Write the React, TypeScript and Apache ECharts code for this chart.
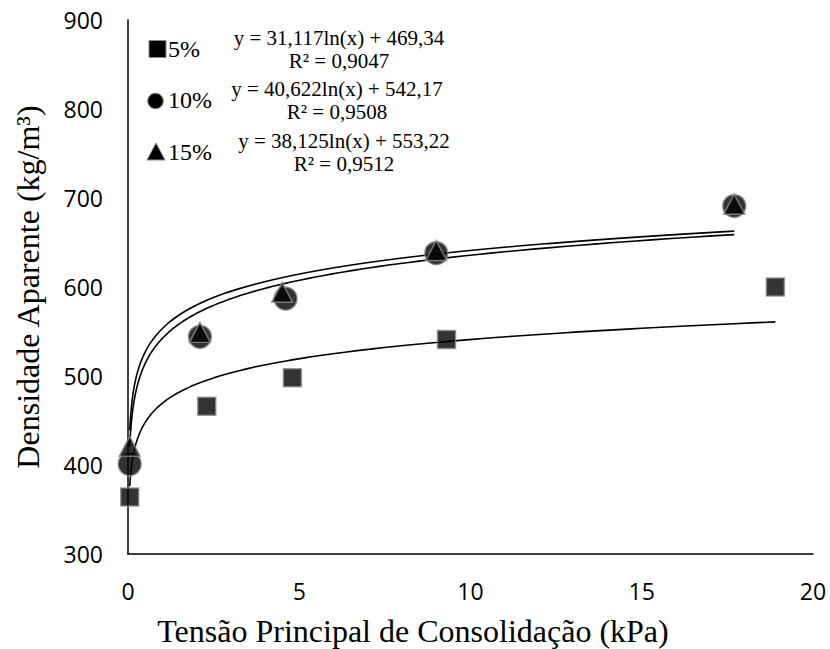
import React, { useEffect, useRef } from "react";
import * as echarts from "echarts";

// Measured points: consolidation stress (kPa) vs bulk density (kg/m³)
const x5 = [0.05, 2.3, 4.8, 9.3, 18.9];
const y5 = [364, 466, 498, 541, 600];
const x10 = [0.05, 2.1, 4.6, 9.0, 17.7];
const y10 = [401, 544, 587, 638, 691];
const x15 = [0.05, 2.1, 4.5, 9.0, 17.7];
const y15 = [421, 549, 594, 641, 693];

// Logarithmic fits y = a·ln(x) + b
const fitA = [31.117, 40.622, 38.125];
const fitB = [469.34, 542.17, 553.22];
const fitR2 = ["0,9047", "0,9508", "0,9512"];
const fitLabels = [
  "y = 31,117ln(x) + 469,34",
  "y = 40,622ln(x) + 542,17",
  "y = 38,125ln(x) + 553,22",
];
const seriesNames = ["5%", "10%", "15%"];
const xTitle = "Tensão Principal de Consolidação (kPa)";
const yTitle = "Densidade Aparente (kg/m³)";

const SERIF = '"Liberation Serif", "Times New Roman", serif';
const SANS = '"Open Sans", "Noto Sans", sans-serif';

const zip = (xs: number[], ys: number[]) => xs.map((x, i) => [x, ys[i]]);

function trend(a: number, b: number, x0: number, x1: number) {
  const n = 160;
  const pts: number[][] = [];
  for (let i = 0; i <= n; i++) {
    const x = x0 * Math.pow(x1 / x0, i / n);
    pts.push([x, a * Math.log(x) + b]);
  }
  return pts;
}

const markerStyle = { color: "#000", borderColor: "#8a8a8a", borderWidth: 1.5 };

export default function App() {
  const ref = useRef<HTMLDivElement>(null);

  useEffect(() => {
    if (!ref.current) return;
    const chart = echarts.init(ref.current, null, { renderer: "svg" });

    const xsAll = [x5, x10, x15];
    const trendSeries = fitA.map((a, i) => ({
      type: "line",
      data: trend(a, fitB[i], xsAll[i][0], xsAll[i][xsAll[i].length - 1]),
      showSymbol: false,
      symbol: "none",
      lineStyle: { color: "#000", width: 1.6 },
      z: 1,
      silent: true,
    }));

    const legendRows = [49, 100, 152];
    const eqCenters = [339, 337, 344];

    const graphic: any[] = [
      {
        type: "rect",
        shape: { x: 149, y: 40.5, width: 17, height: 17 },
        style: { fill: "#000", stroke: "#8a8a8a", lineWidth: 1 },
      },
      {
        type: "circle",
        shape: { cx: 155.5, cy: 101, r: 7.8 },
        style: { fill: "#000", stroke: "#8a8a8a", lineWidth: 1 },
      },
      {
        type: "polygon",
        shape: { points: [[156, 143], [165, 160], [147, 160]] },
        style: { fill: "#000", stroke: "#8a8a8a", lineWidth: 1 },
      },
      {
        type: "text",
        x: 413,
        y: 631,
        style: {
          text: xTitle,
          font: `32px ${SERIF}`,
          fill: "#000",
          align: "center",
          verticalAlign: "middle",
        },
      },
    ];
    seriesNames.forEach((name, i) => {
      graphic.push({
        type: "text",
        x: 168,
        y: legendRows[i],
        style: {
          text: name,
          font: `24px ${SERIF}`,
          fill: "#000",
          align: "left",
          verticalAlign: "middle",
        },
      });
      graphic.push({
        type: "text",
        x: eqCenters[i],
        y: legendRows[i] - 11,
        style: {
          text: fitLabels[i],
          font: `21px ${SERIF}`,
          fill: "#000",
          align: "center",
          verticalAlign: "middle",
        },
      });
      graphic.push({
        type: "text",
        x: eqCenters[i],
        y: legendRows[i] + 12,
        style: {
          text: `R² = ${fitR2[i]}`,
          font: `21px ${SERIF}`,
          fill: "#000",
          align: "center",
          verticalAlign: "middle",
        },
      });
    });

    chart.setOption({
      animation: false,
      backgroundColor: "#fff",
      grid: { left: 128, right: 17, top: 20, bottom: 95 },
      xAxis: {
        type: "value",
        min: 0,
        max: 20,
        interval: 5,
        axisLine: { show: true, lineStyle: { color: "#000", width: 1.5 } },
        axisTick: { show: false },
        splitLine: { show: false },
        axisLabel: { fontFamily: SANS, fontSize: 23, color: "#000", margin: 25 },
      },
      yAxis: {
        type: "value",
        min: 300,
        max: 900,
        interval: 100,
        name: yTitle,
        nameLocation: "middle",
        nameGap: 84,
        nameTextStyle: { fontFamily: SERIF, fontSize: 32, color: "#000" },
        axisLine: { show: true, lineStyle: { color: "#000", width: 1.5 } },
        axisTick: { show: false },
        splitLine: { show: false },
        axisLabel: { fontFamily: SANS, fontSize: 23, color: "#000", margin: 25 },
      },
      series: [
        ...trendSeries,
        {
          name: seriesNames[0],
          type: "scatter",
          symbol: "rect",
          symbolSize: 18,
          data: zip(x5, y5),
          itemStyle: markerStyle,
          z: 3,
        },
        {
          name: seriesNames[1],
          type: "scatter",
          symbol: "circle",
          symbolSize: 23,
          data: zip(x10, y10),
          itemStyle: markerStyle,
          z: 3,
        },
        {
          name: seriesNames[2],
          type: "scatter",
          symbol: "triangle",
          symbolSize: [21, 20],
          data: zip(x15, y15),
          itemStyle: markerStyle,
          z: 4,
        },
      ],
      graphic,
    });

    return () => chart.dispose();
  }, []);

  return (
    <div
      ref={ref}
      style={{ position: "fixed", left: 0, top: 0, width: 830, height: 649 }}
    />
  );
}
